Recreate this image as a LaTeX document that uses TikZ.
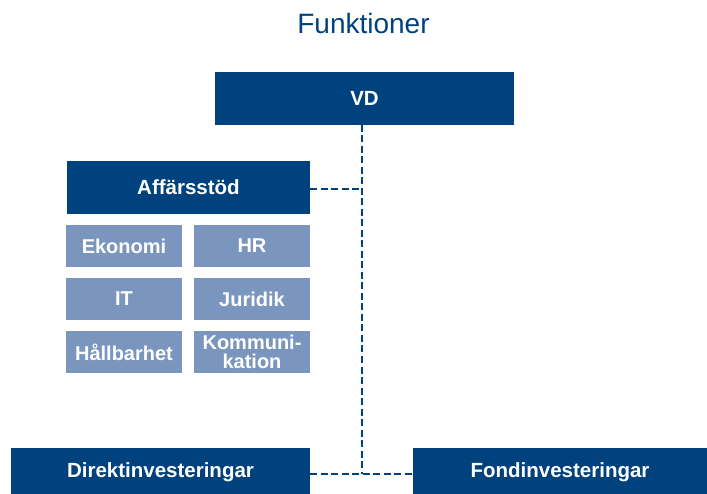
\documentclass[tikz,border=0pt]{standalone}
\usepackage{fontspec}
\setmainfont{Liberation Sans}
\definecolor{darkblue}{HTML}{00427E}
\definecolor{lightblue}{HTML}{7A96BE}
\begin{document}
\begin{tikzpicture}[x=1pt,y=-1pt,
  mainbox/.style={fill=darkblue,draw=none,text=white,inner sep=0pt,
    font=\fontsize{20.5}{20}\selectfont\bfseries},
  subbox/.style={fill=lightblue,draw=none,text=white,inner sep=0pt,
    minimum width=116pt,minimum height=42pt,align=center,
    font=\fontsize{20}{19.5}\selectfont\bfseries},
  link/.style={draw=darkblue,line width=2.7pt,dash pattern=on 7pt off 3.5pt}]
\useasboundingbox (0,0) rectangle (707,494);
\node[text=darkblue,font=\fontsize{28}{28}\selectfont,anchor=base] (title) at (363.5,34) {Funktioner};
\node[mainbox,minimum width=299pt,minimum height=53pt] (vd) at (364.5,98.5) {VD};
\node[mainbox,minimum width=243pt,minimum height=53pt] (aff) at (188.5,187.5) {Affärsstöd};
\node[subbox] (eko) at (124,246) {Ekonomi};
\node[subbox] (hr) at (252,246) {HR};
\node[subbox] (it) at (124,299) {IT};
\node[subbox] (jur) at (252,299) {Juridik};
\node[subbox] (hall) at (124,352) {Hållbarhet};
\node[subbox] (kom) at (252,352) {Kommuni-\\kation};
\node[mainbox,minimum width=299pt,minimum height=48pt] (dir) at (160.5,472) {Direktinvesteringar};
\node[mainbox,minimum width=294pt,minimum height=48pt] (fond) at (560,472) {Fondinvesteringar};
\coordinate (top) at (362,125);
\coordinate (mid) at (362,189);
\coordinate (bot) at (362,474);
\draw[link] (top) -- (bot);
\draw[link] (aff.east |- mid) -- (mid);
\draw[link] (dir.east |- bot) -- (fond.west |- bot);
\end{tikzpicture}
\end{document}
